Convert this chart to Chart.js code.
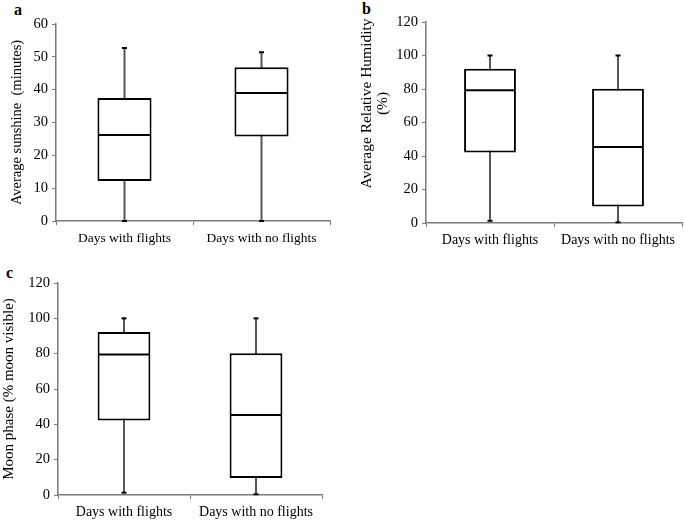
<!DOCTYPE html>
<html>
<head>
<meta charset="utf-8">
<script src="https://cdn.jsdelivr.net/npm/chart.js@4.4.1/dist/chart.umd.min.js"></script>
<style>
  html, body { margin: 0; padding: 0; background: #fff; }
  body { width: 685px; height: 521px; position: relative; overflow: hidden; }
  canvas { position: absolute; }
  .lbl { position: absolute; font-family: "Liberation Serif", "Times New Roman", serif; font-weight: bold; font-size: 16px; line-height: 16px; color: #000; }
</style>
</head>
<body>
<div class="lbl" style="left:14px;top:2px;">a</div>
<div class="lbl" style="left:362px;top:1px;">b</div>
<div class="lbl" style="left:6px;top:265px;">c</div>
<canvas id="ca" width="345" height="260" style="left:0;top:0;"></canvas>
<canvas id="cb" width="345" height="260" style="left:340px;top:0;"></canvas>
<canvas id="cc" width="345" height="261" style="left:0;top:260px;"></canvas>
<script>
// ---- data ----
const categories = ['Days with flights', 'Days with no flights'];

// (a) Average sunshine (minutes)
const sunshineLow    = [0, 0];
const sunshineQ1     = [12.2, 25.7];
const sunshineMedian = [26.2, 39.0];
const sunshineQ3     = [37.5, 46.8];
const sunshineHigh   = [52.7, 51.4];
const sunshineTicks  = [0, 10, 20, 30, 40, 50, 60];

// (b) Average relative humidity (%)
const humidityLow    = [1.3, 0.4];
const humidityQ1     = [42.1, 9.8];
const humidityMedian = [79.3, 45.3];
const humidityQ3     = [92.1, 80.2];
const humidityHigh   = [100, 100];
const humidityTicks  = [0, 20, 40, 60, 80, 100, 120];

// (c) Moon phase (% moon visible)
const moonLow    = [1.3, 0.4];
const moonQ1     = [42.1, 9.6];
const moonMedian = [79.5, 45.3];
const moonQ3     = [92.2, 80.2];
const moonHigh   = [100, 100];
const moonTicks  = [0, 20, 40, 60, 80, 100, 120];

const SERIF = '"Liberation Serif", "Times New Roman", serif';
const AXIS = '#7a7a7a';

const boxPlugin = {
  id: 'boxplot',
  beforeDatasetsDraw(chart) {
    const ds = chart.data.datasets[0];
    const meta = chart.getDatasetMeta(0);
    const y = chart.scales.y;
    const ctx = chart.ctx;
    ctx.save();
    ctx.strokeStyle = '#555';
    ctx.lineWidth = 2;
    meta.data.forEach((bar, i) => {
      ctx.beginPath();
      ctx.moveTo(bar.x, y.getPixelForValue(ds.whiskerLow[i]));
      ctx.lineTo(bar.x, y.getPixelForValue(ds.whiskerHigh[i]));
      ctx.stroke();
    });
    ctx.restore();
  },
  afterDatasetsDraw(chart) {
    const ds = chart.data.datasets[0];
    const meta = chart.getDatasetMeta(0);
    const y = chart.scales.y;
    const ctx = chart.ctx;
    ctx.save();
    ctx.strokeStyle = '#000';
    meta.data.forEach((bar, i) => {
      const half = bar.width / 2;
      const ym = y.getPixelForValue(ds.medians[i]);
      ctx.lineWidth = 2;
      ctx.beginPath();
      ctx.moveTo(bar.x - half + 1, ym);
      ctx.lineTo(bar.x + half - 1, ym);
      ctx.stroke();
      // caps
      [ds.whiskerLow[i], ds.whiskerHigh[i]].forEach(v => {
        const yc = y.getPixelForValue(v);
        ctx.lineWidth = 2;
        ctx.beginPath();
        ctx.moveTo(bar.x - 2.5, yc);
        ctx.lineTo(bar.x + 2.5, yc);
        ctx.stroke();
      });
    });
    ctx.restore();
  }
};

const titleBPlugin = {
  id: 'titleB',
  afterDraw(chart) {
    const o = chart.options.plugins.titleB;
    if (!o) return;
    const ctx = chart.ctx;
    const ca = chart.chartArea;
    ctx.save();
    ctx.fillStyle = '#000';
    ctx.font = o.size + 'px ' + SERIF;
    ctx.textAlign = 'center';
    ctx.textBaseline = 'middle';
    const cy = (ca.top + ca.bottom) / 2 + o.shift;
    o.lines.forEach((t, k) => {
      ctx.save();
      ctx.translate(o.x + k * o.lineGap, cy);
      ctx.rotate(-Math.PI / 2);
      ctx.fillText(t, 0, 0);
      ctx.restore();
    });
    ctx.restore();
  }
};

function makeChart(id, cfg) {
  const ticksArr = cfg.ticks;
  return new Chart(document.getElementById(id), {
    type: 'bar',
    data: {
      labels: categories,
      datasets: [{
        data: cfg.q1.map((v, i) => [v, cfg.q3[i]]),
        medians: cfg.median,
        whiskerLow: cfg.low,
        whiskerHigh: cfg.high,
        backgroundColor: '#ffffff',
        borderColor: '#000000',
        borderWidth: 2,
        borderSkipped: false,
        barPercentage: cfg.barPct,
        categoryPercentage: 1.0
      }]
    },
    plugins: [boxPlugin, titleBPlugin],
    options: {
      responsive: false,
      animation: false,
      events: [],
      layout: { autoPadding: false, padding: { left: 0, top: cfg.top, right: cfg.right, bottom: 0 } },
      plugins: {
        legend: { display: false },
        tooltip: { enabled: false },
        titleB: cfg.titleB || null
      },
      scales: {
        x: {
          offset: true,
          grid: { display: true, offset: true, drawOnChartArea: false, drawTicks: true, tickLength: 4, color: AXIS, lineWidth: 1 },
          border: { display: true, color: AXIS, width: 1.5 },
          ticks: { color: '#000', font: { family: SERIF, size: cfg.xFont }, padding: 5, maxRotation: 0 },
          afterFit(s) { s.height = cfg.xHeight; }
        },
        y: {
          min: ticksArr[0],
          max: ticksArr[ticksArr.length - 1],
          afterBuildTicks(s) { s.ticks = ticksArr.map(v => ({ value: v })); },
          grid: { display: true, drawOnChartArea: false, drawTicks: true, tickLength: 4, color: AXIS, lineWidth: 1 },
          border: { display: true, color: AXIS, width: 1.5 },
          ticks: { color: '#000', font: { family: SERIF, size: 14.5 }, padding: 4 },
          title: cfg.yTitle ? {
            display: true, text: cfg.yTitle, color: '#000',
            font: { family: SERIF, size: cfg.yTitleSize }, padding: { top: cfg.yTitlePad, bottom: 0 }
          } : { display: false },
          afterFit(s) { s.width = cfg.yWidth; }
        }
      }
    }
  });
}

makeChart('ca', {
  low: sunshineLow, q1: sunshineQ1, median: sunshineMedian, q3: sunshineQ3, high: sunshineHigh,
  ticks: sunshineTicks, barPct: 0.395, top: 24, right: 15, xHeight: 39, yWidth: 56, xFont: 13.5,
  yTitle: 'Average sunshine  (minutes)', yTitleSize: 14.5, yTitlePad: 8
});

makeChart('cb', {
  low: humidityLow, q1: humidityQ1, median: humidityMedian, q3: humidityQ3, high: humidityHigh,
  ticks: humidityTicks, barPct: 0.405, top: 22, right: 3, xHeight: 37, yWidth: 86, xFont: 14,
  yTitle: null,
  titleB: { lines: ['Average Relative Humidity', '(%)'], x: 27, lineGap: 16, size: 15.5, shift: -19 }
});

makeChart('cc', {
  low: moonLow, q1: moonQ1, median: moonMedian, q3: moonQ3, high: moonHigh,
  ticks: moonTicks, barPct: 0.40, top: 23, right: 23, xHeight: 26, yWidth: 58, xFont: 14,
  yTitle: 'Moon phase (% moon visible)', yTitleSize: 15, yTitlePad: 0
});
</script>
</body>
</html>
